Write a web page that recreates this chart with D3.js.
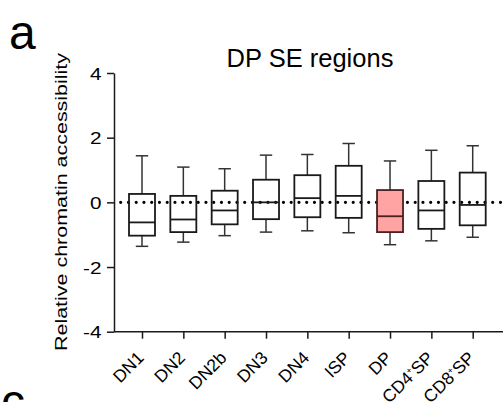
<!DOCTYPE html>
<html>
<head>
<meta charset="utf-8">
<script src="https://cdn.jsdelivr.net/npm/d3@7"></script>
<style>
  body { margin: 0; background: #fff; }
  svg { font-family: Arial, "Liberation Sans", sans-serif; }
</style>
</head>
<body>
<div id="vis"></div>
<script>
// values
const categories = ['DN1', 'DN2', 'DN2b', 'DN3', 'DN4', 'ISP', 'DP', 'CD4+SP', 'CD8+SP'];
const whiskerLow = [-1.36, -1.23, -1.03, -0.92, -0.88, -0.94, -1.31, -1.19, -1.08];
const q1 = [-1.03, -0.92, -0.68, -0.52, -0.46, -0.48, -0.92, -0.82, -0.71];
const median = [-0.62, -0.53, -0.25, 0.00, 0.13, 0.20, -0.43, -0.25, -0.08];
const q3 = [0.26, 0.20, 0.36, 0.70, 0.84, 1.13, 0.38, 0.66, 0.92];
const whiskerHigh = [1.44, 1.09, 1.04, 1.46, 1.48, 1.82, 1.28, 1.61, 1.75];
const highlighted = ['DP'];
const yTicks = [-4, -2, 0, 2, 4];

const width = 503, height = 402;
const svg = d3.select('#vis')
  .append('svg')
  .attr('width', width)
  .attr('height', height);

const x = d3.scalePoint()
  .domain(categories)
  .range([142, 472.7]);

const y = d3.scaleLinear()
  .domain([-4, 4])
  .range([331.7, 73]);

const axisLeft = 114;
const ink = '#1a1a1a';

// panel letters
svg.append('text')
  .attr('x', 9).attr('y', 49)
  .attr('font-size', 48)
  .text('a');
svg.append('text')
  .attr('x', 1).attr('y', 418)
  .attr('font-size', 48)
  .text('c');

// title
svg.append('text')
  .attr('x', 310).attr('y', 67)
  .attr('text-anchor', 'middle')
  .attr('font-size', 25.5)
  .text('DP SE regions');

// y label
svg.append('text')
  .attr('transform', 'translate(67,202) rotate(-90)')
  .attr('text-anchor', 'middle')
  .attr('font-size', 17)
  .attr('textLength', 298)
  .attr('lengthAdjust', 'spacingAndGlyphs')
  .text('Relative chromatin accessibility');

// y axis
const gy = svg.append('g')
  .attr('transform', `translate(${axisLeft},0)`)
  .call(d3.axisLeft(y).tickValues(yTicks).tickSize(7).tickSizeOuter(0).tickFormat(d3.format('d')));
gy.select('.domain').attr('stroke', ink).attr('stroke-width', 1.5);
gy.selectAll('.tick line').attr('stroke', ink).attr('stroke-width', 1.5);
gy.selectAll('.tick text')
  .attr('x', null)
  .attr('dy', null)
  .attr('transform', 'translate(-12.5,6) scale(1.22,1)')
  .attr('font-size', 17)
  .attr('fill', '#000')
  .text(d => d < 0 ? '-' + Math.abs(d) : d);

// x axis
const gx = svg.append('g')
  .attr('transform', `translate(0,${y(-4)})`)
  .call(d3.axisBottom(x).tickSize(7).tickSizeOuter(0).tickFormat(''));
gx.select('.domain').remove();
gx.append('line')
  .attr('x1', axisLeft).attr('x2', width)
  .attr('stroke', ink).attr('stroke-width', 1.5);
gx.selectAll('.tick line').attr('stroke', ink).attr('stroke-width', 1.5);

// x tick labels, rotated
const xl = svg.selectAll('.xlab')
  .data(categories)
  .enter()
  .append('text')
  .attr('class', 'xlab')
  .attr('transform', d => `translate(${x(d) - 6},350) rotate(-45)`)
  .attr('text-anchor', 'end')
  .attr('dy', '0.72em')
  .attr('font-size', 17.5);
xl.each(function (d) {
  const t = d3.select(this);
  const parts = d.split('+');
  if (parts.length === 2) {
    t.append('tspan').text(parts[0]);
    t.append('tspan').attr('font-size', 9).attr('dy', '-0.75em').text('+');
    t.append('tspan').attr('dy', '0.4em').text(parts[1]);
  } else {
    t.text(d);
  }
});

// dotted zero line
svg.append('line')
  .attr('x1', 120.7).attr('x2', 501)
  .attr('y1', y(0)).attr('y2', y(0))
  .attr('stroke', '#000')
  .attr('stroke-width', 3.2)
  .attr('stroke-linecap', 'round')
  .attr('stroke-dasharray', '0 7.75');

// boxes
const boxW = 26, capW = 12.4;
const boxes = svg.selectAll('.box')
  .data(categories)
  .enter()
  .append('g')
  .attr('class', 'box');

boxes.append('line')
  .attr('x1', d => x(d)).attr('x2', d => x(d))
  .attr('y1', (d, i) => y(whiskerHigh[i])).attr('y2', (d, i) => y(q3[i]));
boxes.append('line')
  .attr('x1', d => x(d)).attr('x2', d => x(d))
  .attr('y1', (d, i) => y(q1[i])).attr('y2', (d, i) => y(whiskerLow[i]));
boxes.append('line')
  .attr('x1', d => x(d) - capW / 2).attr('x2', d => x(d) + capW / 2)
  .attr('y1', (d, i) => y(whiskerHigh[i])).attr('y2', (d, i) => y(whiskerHigh[i]));
boxes.append('line')
  .attr('x1', d => x(d) - capW / 2).attr('x2', d => x(d) + capW / 2)
  .attr('y1', (d, i) => y(whiskerLow[i])).attr('y2', (d, i) => y(whiskerLow[i]));
boxes.selectAll('line')
  .attr('stroke', '#333')
  .attr('stroke-width', 1.5);

boxes.append('rect')
  .attr('x', d => x(d) - boxW / 2)
  .attr('width', boxW)
  .attr('y', (d, i) => y(q3[i]))
  .attr('height', (d, i) => y(q1[i]) - y(q3[i]))
  .attr('fill', d => highlighted.includes(d) ? '#ffa3a3' : 'none')
  .attr('stroke', d => highlighted.includes(d) ? '#4a2020' : ink)
  .attr('stroke-width', 1.8);

boxes.append('line')
  .attr('x1', d => x(d) - boxW / 2).attr('x2', d => x(d) + boxW / 2)
  .attr('y1', (d, i) => y(median[i])).attr('y2', (d, i) => y(median[i]))
  .attr('stroke', d => highlighted.includes(d) ? '#4a2020' : ink)
  .attr('stroke-width', 1.8);
</script>
</body>
</html>
